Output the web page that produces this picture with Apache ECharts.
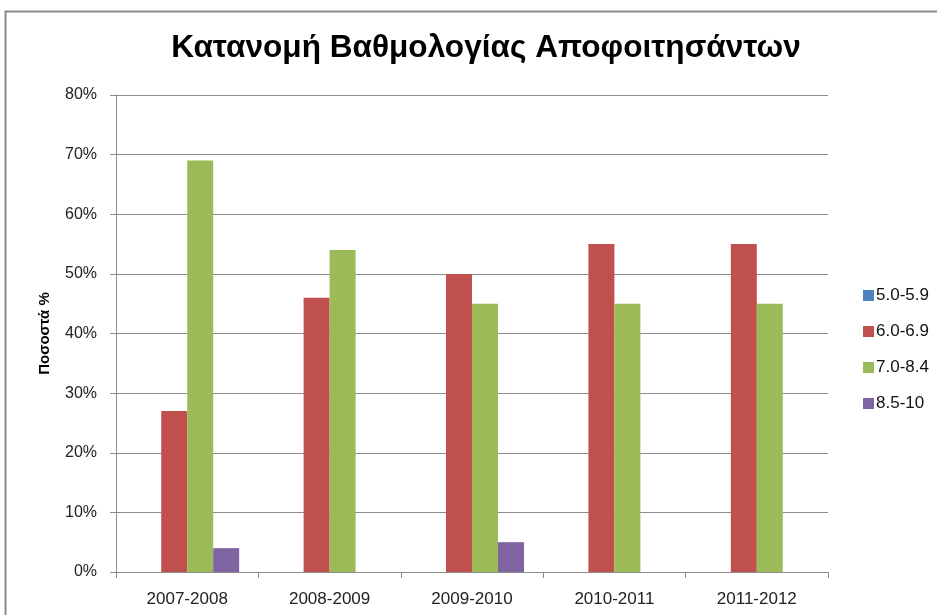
<!DOCTYPE html>
<html>
<head>
<meta charset="utf-8">
<script src="https://cdn.jsdelivr.net/npm/echarts@6/dist/echarts.min.js"></script>
<style>
  html, body { margin: 0; padding: 0; background: #fff; }
  #chart { width: 937px; height: 615px; }
</style>
</head>
<body>
<div id="chart"></div>
<script>
// κατηγορίες (ακαδημαϊκά έτη)
const categories = ['2007-2008', '2008-2009', '2009-2010', '2010-2011', '2011-2012'];
// ποσοστά ανά κλίμακα βαθμολογίας
const grade50 = [0, 0, 0, 0, 0];
const grade60 = [27, 46, 50, 55, 55];
const grade70 = [69, 54, 45, 45, 45];
const grade85 = [4, 0, 5, 0, 0];
const seriesNames = ['5.0-5.9', '6.0-6.9', '7.0-8.4', '8.5-10'];
const seriesColors = ['#4F81BD', '#C0504D', '#9BBB59', '#8064A2'];

const fontFam = '"Liberation Sans", Arial, sans-serif';
const axisColor = '#8c8c8c';

const chart = echarts.init(document.getElementById('chart'));

const makeBar = (i, data) => ({
  name: seriesNames[i],
  type: 'bar',
  data: data,
  barGap: 0,
  barCategoryGap: '27%',
  itemStyle: { color: seriesColors[i] },
});

const option = {
  animation: false,
  textStyle: { fontFamily: fontFam },
  title: {
    text: 'Κατανομή Βαθμολογίας Αποφοιτησάντων',
    left: 481,
    top: 27,
    textAlign: 'center',
    textStyle: {
      fontFamily: fontFam,
      fontSize: 31.6,
      fontWeight: 'bold',
      color: '#000',
    },
  },
  grid: {
    left: 116,
    right: 109,
    top: 95,
    bottom: 43,
  },
  legend: {
    orient: 'vertical',
    left: 858,
    top: 282,
    itemWidth: 11,
    itemHeight: 11,
    itemGap: 19,
    icon: 'rect',
    data: seriesNames,
    textStyle: { fontFamily: fontFam, fontSize: 17, color: '#111', padding: [0, 0, 0, -3] },
  },
  xAxis: {
    type: 'category',
    data: categories,
    axisLine: { lineStyle: { color: axisColor, width: 1 } },
    axisTick: { show: true, alignWithLabel: false, length: 6, lineStyle: { color: axisColor } },
    axisLabel: { color: '#222', fontSize: 17, margin: 19, fontFamily: fontFam },
  },
  yAxis: {
    type: 'value',
    min: 0,
    max: 80,
    interval: 10,
    name: 'Ποσοστά %',
    nameLocation: 'middle',
    nameGap: 64,
    nameRotate: 90,
    nameTextStyle: { fontFamily: fontFam, fontSize: 15, fontWeight: 'bold', color: '#000' },
    axisLine: { show: true, lineStyle: { color: axisColor, width: 1 } },
    axisTick: { show: true, length: 6, lineStyle: { color: axisColor } },
    axisLabel: { formatter: '{value}%', color: '#222', fontSize: 16, margin: 19, fontFamily: fontFam },
    splitLine: { lineStyle: { color: axisColor, width: 1 } },
  },
  graphic: [
    {
      type: 'rect',
      shape: { x: 5.5, y: 11.5, width: 960, height: 640 },
      style: { fill: 'none', stroke: '#8a8a8a', lineWidth: 2 },
      silent: true,
      z: -1,
    },
  ],
  series: [
    makeBar(0, grade50),
    makeBar(1, grade60),
    makeBar(2, grade70),
    makeBar(3, grade85),
  ],
};

chart.setOption(option);
</script>
</body>
</html>
